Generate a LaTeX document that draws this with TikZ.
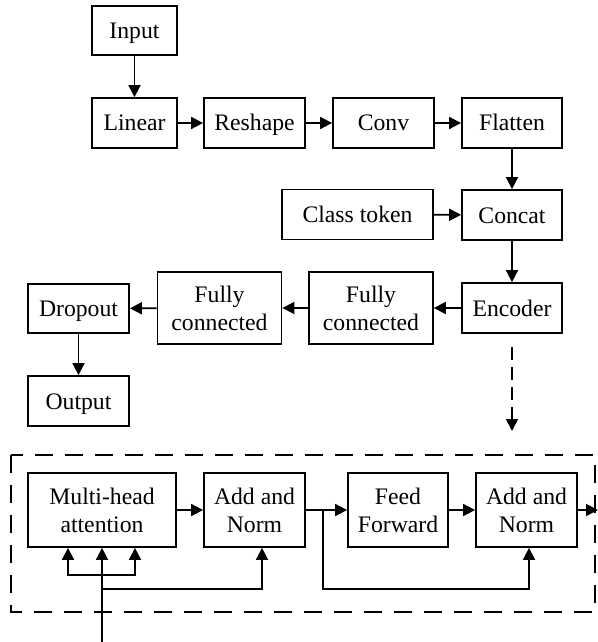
\documentclass[tikz,border=0pt]{standalone}
\usepackage{fontspec}
\setmainfont{Liberation Serif}
\usetikzlibrary{arrows.meta}
% struts that keep the cap line of each label centred in its box
\newcommand\topstrut{\rule{0pt}{8.5pt}}
\newcommand\botstrut{\rule[-0.5pt]{0pt}{0.5pt}}

\begin{document}
\begin{tikzpicture}[x=0.5pt,y=-0.5pt,
  every path/.style={line width=0.9pt},
  blk/.style={draw, line width=0.9pt, inner sep=0pt, align=center,
    font=\fontsize{11.85}{14}\selectfont},
  blkone/.style={blk, text height=8.5pt, text depth=0.5pt},
  arr/.style={-{Triangle[length=6pt,width=6pt]}},
  dasharr/.style={arr, dash pattern=on 6.5pt off 3.5pt},
  frame/.style={draw, dash pattern=on 9pt off 6pt}]
\useasboundingbox (0,0) rectangle (598,642);

% main pipeline
\node[blkone, minimum width=42.5pt, minimum height=24.5pt] (input)   at (134.5,30.5) {Input};
\node[blkone, minimum width=42.5pt, minimum height=25pt]   (linear)  at (134.5,123)  {Linear};
\node[blkone, minimum width=50.5pt, minimum height=25pt]   (reshape) at (254.5,123)  {Reshape};
\node[blkone, minimum width=50.5pt, minimum height=25pt]   (conv)    at (383.5,123)  {Conv};
\node[blkone, minimum width=50pt,   minimum height=25pt]   (flatten) at (512,123)    {Flatten};
\node[blkone, minimum width=75.5pt, minimum height=25pt]   (cls)     at (357.5,214.5){Class token};
\node[blkone, minimum width=50pt,   minimum height=25pt]   (concat)  at (512,215)    {Concat};
\node[blkone, minimum width=50pt,   minimum height=25pt]   (encoder) at (512,308)    {Encoder};
\node[blk, minimum width=62pt,   minimum height=36pt]   (fcb)     at (371,308)    {\topstrut Fully\\connected\botstrut};
\node[blk, minimum width=62pt,   minimum height=36pt]   (fca)     at (219.5,308)  {\topstrut Fully\\connected\botstrut};
\node[blkone, minimum width=50.5pt, minimum height=24.5pt] (dropout) at (78.5,308.5) {Dropout};
\node[blkone, minimum width=50.5pt, minimum height=25pt]   (output)  at (78.5,401)   {Output};

\draw[arr] (input) -- (linear);
\draw[arr] (linear) -- (reshape);
\draw[arr] (reshape) -- (conv);
\draw[arr] (conv) -- (flatten);
\draw[arr] (flatten) -- (concat);
\draw[arr] (cls) -- (concat);
\draw[arr] (concat) -- (encoder);
\draw[arr] (encoder) -- (fcb);
\draw[arr] (fcb) -- (fca);
\draw[arr] (fca) -- (dropout);
\draw[arr] (dropout) -- (output);

% encoder detail
\coordinate (dstart) at (512,347);
\coordinate (dend) at (512,431);
\draw[dasharr] (dstart) -- (dend);

\draw[frame] (11,455) rectangle (595,612);

\node[blk, minimum width=74pt,   minimum height=37pt] (mha) at (102,510)   {\topstrut Multi-head\\attention\botstrut};
\node[blk, minimum width=50.5pt, minimum height=37pt] (an1) at (254.5,510) {\topstrut Add and\\Norm\botstrut};
\node[blk, minimum width=50pt,   minimum height=37pt] (ff)  at (398,510)   {\topstrut Feed\\Forward\botstrut};
\node[blk, minimum width=50.5pt, minimum height=37pt] (an2) at (526.5,510) {\topstrut Add and\\Norm\botstrut};

\coordinate (in)   at (102,642);
\coordinate (qk)   at (102,575);
\coordinate (res1) at (102,589);
\coordinate (res2) at (323,510);
\coordinate (out)  at (598,510);

\draw[arr] (in) -- (mha.south);
\draw[arr] (qk) -| ([xshift=-17pt]mha.south);
\draw[arr] (qk) -| ([xshift=16.5pt]mha.south);
\draw[arr] (res1) -| ([xshift=3.75pt]an1.south);
\draw[arr] (mha) -- (an1);
\draw[arr] (an1) -- (ff);
\draw[arr] (ff) -- (an2);
\draw[arr] (res2) |- (329,589) -| ([xshift=1.25pt]an2.south);
\draw[arr] (an2) -- (out);
\end{tikzpicture}
\end{document}
